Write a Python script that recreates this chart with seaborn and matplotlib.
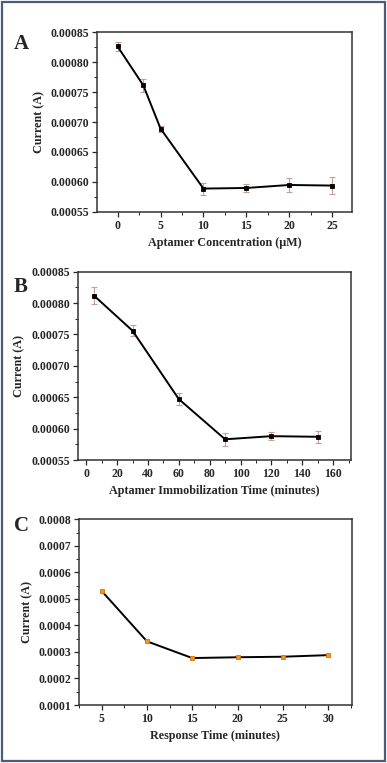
"""
Current response panels A-C (aptamer concentration, immobilization time, response time)
"""
import numpy as np
import pandas as pd
import matplotlib
matplotlib.use("Agg")
import matplotlib.pyplot as plt
from matplotlib.ticker import MultipleLocator, FormatStrFormatter
from matplotlib.patches import Rectangle
import seaborn as sns

# --- Panel A: aptamer concentration ---
conc_um = [0, 3, 5, 10, 15, 20, 25]
current_a = [0.000826, 0.000761, 0.000689, 0.000589, 0.000590, 0.000595, 0.000594]
err_a = [0.000008, 0.000011, 0.000005, 0.000010, 0.000007, 0.000012, 0.000014]

# --- Panel B: immobilization time ---
immob_min = [5, 30, 60, 90, 120, 150]
current_b = [0.000812, 0.000756, 0.000647, 0.000583, 0.000588, 0.000587]
err_b = [0.000013, 0.000009, 0.000010, 0.000010, 0.000006, 0.000010]

# --- Panel C: response time ---
resp_min = [5, 10, 15, 20, 25, 30]
current_c = [0.000530, 0.000340, 0.000277, 0.000280, 0.000282, 0.000288]

sns.set_theme(style="white")
plt.rcParams['font.family'] = ['Liberation Serif', 'DejaVu Serif']
plt.rcParams['font.weight'] = 'bold'

fig = plt.figure(figsize=(3.87, 7.63), dpi=100)

# outer frame
fig.patches.append(Rectangle((0.004, 0.002), 0.991, 0.995, transform=fig.transFigure,
                             fill=False, edgecolor='#4d5b78', linewidth=1.6))

ERR_COLOR = '#c99a9a'


def style_axes(ax, xmaj, xmin, ymaj, ymin, yfmt):
    ax.xaxis.set_major_locator(MultipleLocator(xmaj))
    ax.xaxis.set_minor_locator(MultipleLocator(xmin))
    ax.yaxis.set_major_locator(MultipleLocator(ymaj))
    ax.yaxis.set_minor_locator(MultipleLocator(ymin))
    ax.yaxis.set_major_formatter(FormatStrFormatter(yfmt))
    ax.tick_params(which='major', direction='out', length=3.5, width=0.9,
                   labelsize=8.5, bottom=True, left=True, top=False, right=False, pad=2)
    ax.tick_params(which='minor', direction='out', length=2, width=0.7,
                   bottom=True, left=True, top=False, right=False)
    for lbl in ax.get_xticklabels() + ax.get_yticklabels():
        lbl.set_fontweight('bold')
    for sp in ax.spines.values():
        sp.set_color('#333333')
        sp.set_linewidth(1.1)
    ax.grid(False)


def draw_panel(rect, x, y, err, color, edge, xlim, ylim, xlabel, letter, letter_pos,
               xmaj, xmin, ymaj, ymin, yfmt, ylabel_pad):
    ax = fig.add_axes(rect)
    df = pd.DataFrame({'x': x, 'y': y})
    if err is not None:
        ax.errorbar(x, y, yerr=err, fmt='none', ecolor=ERR_COLOR, elinewidth=0.8,
                    capsize=2, capthick=0.8, zorder=2)
    sns.lineplot(data=df, x='x', y='y', ax=ax, color='black', linewidth=1.4,
                 marker='s', markersize=3.5, markerfacecolor=color,
                 markeredgecolor=edge, markeredgewidth=0.6, zorder=3)
    ax.set_xlim(*xlim)
    ax.set_ylim(*ylim)
    style_axes(ax, xmaj, xmin, ymaj, ymin, yfmt)
    ax.set_xlabel(xlabel, fontsize=8.7, fontweight='bold', labelpad=4)
    ax.set_ylabel('Current (A)', fontsize=8.7, fontweight='bold', labelpad=ylabel_pad)
    fig.text(letter_pos[0], letter_pos[1], letter, fontsize=15, fontweight='bold',
             ha='left', va='center')
    return ax


draw_panel([0.2506, 0.7222, 0.659, 0.2358], conc_um, current_a, err_a, 'black', 'black',
           (-2.4, 27.3), (0.00055, 0.00085), 'Aptamer Concentration (\u03bcM)', 'A',
           (0.035, 0.942), 5, 2.5, 0.00005, 0.000025, '%.5f', 4)

draw_panel([0.2008, 0.3971, 0.7052, 0.2468], immob_min, current_b, err_b, 'black', 'black',
           (-5.5, 171.3), (0.00055, 0.00085), 'Aptamer Immobilization Time (minutes)', 'B',
           (0.035, 0.624), 20, 10, 0.00005, 0.000025, '%.5f', 4)

draw_panel([0.2041, 0.076, 0.7047, 0.2434], resp_min, current_c, None, '#f7941d', '#d9700a',
           (2.5, 32.6), (0.0001, 0.0008), 'Response Time (minutes)', 'C',
           (0.035, 0.310), 5, 2.5, 0.0001, 0.00005, '%.4f', 4)

fig.savefig('out.png', dpi=100)
